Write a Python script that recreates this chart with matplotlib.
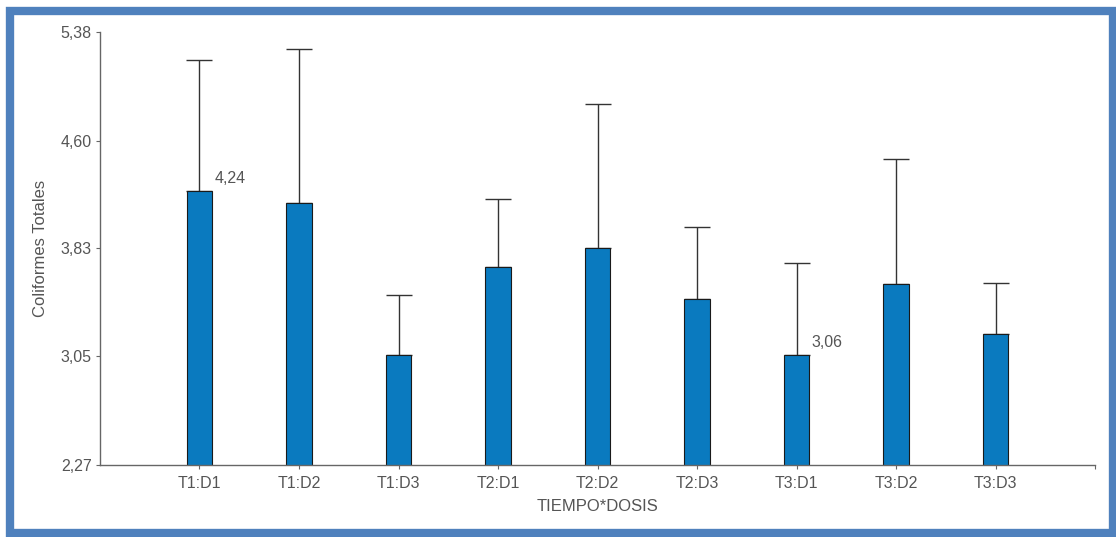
import matplotlib.pyplot as plt
from matplotlib.patches import Rectangle

grupos = ['T1:D1', 'T1:D2', 'T1:D3', 'T2:D1', 'T2:D2', 'T2:D3', 'T3:D1', 'T3:D2', 'T3:D3']
medias = [4.24, 4.15, 3.06, 3.69, 3.83, 3.46, 3.06, 3.57, 3.21]
error_sup = [0.94, 1.11, 0.43, 0.49, 1.03, 0.52, 0.66, 0.90, 0.37]
yticks = [2.27, 3.05, 3.83, 4.60, 5.38]
ytick_labels = ['2,27', '3,05', '3,83', '4,60', '5,38']
etiquetas = {0: '4,24', 6: '3,06'}

plt.rcParams['font.family'] = ['Liberation Sans', 'DejaVu Sans']

fig = plt.figure(figsize=(11.16, 5.37), dpi=100)
ax = fig.add_axes([0.0896, 0.134, 0.8916, 0.8066])

x = list(range(len(grupos)))
ax.bar(x, medias, width=0.26, color='#0a7abf', edgecolor='#1a1a1a', linewidth=0.8, zorder=2)
ax.errorbar(x, medias, yerr=[[0] * len(x), error_sup], fmt='none', ecolor='#333333',
            elinewidth=1.0, capsize=9.5, capthick=1.0, zorder=1)

for i, txt in etiquetas.items():
    ax.text(x[i] + 0.15, medias[i] + 0.09, txt, ha='left', va='center', fontsize=11.5, color='#555555')

ax.set_xlim(-1, 9)
ax.set_ylim(2.27, 5.38)
ax.set_xticks(x)
ax.set_xticklabels(grupos)
ax.set_xticks([9], minor=True)
ax.set_yticks(yticks)
ax.set_yticklabels(ytick_labels)
ax.tick_params(axis='both', which='both', length=3, width=0.8, colors='#666666', labelsize=11.5, labelcolor='#555555')
ax.tick_params(axis='x', pad=5)
ax.tick_params(axis='y', pad=3)

for s in ['top', 'right']:
    ax.spines[s].set_visible(False)
for s in ['left', 'bottom']:
    ax.spines[s].set_color('#666666')
    ax.spines[s].set_linewidth(1.0)

ax.set_xlabel('TIEMPO*DOSIS', fontsize=12, color='#555555', labelpad=6)
ax.set_ylabel('Coliformes Totales', fontsize=12, color='#555555', labelpad=9)

fig.patches.append(Rectangle((10 / 1116, 4 / 537), 1103 / 1116, 522 / 537, transform=fig.transFigure,
                             fill=False, edgecolor='#4f81bd', linewidth=6, figure=fig))

fig.savefig('out.png', dpi=100)
